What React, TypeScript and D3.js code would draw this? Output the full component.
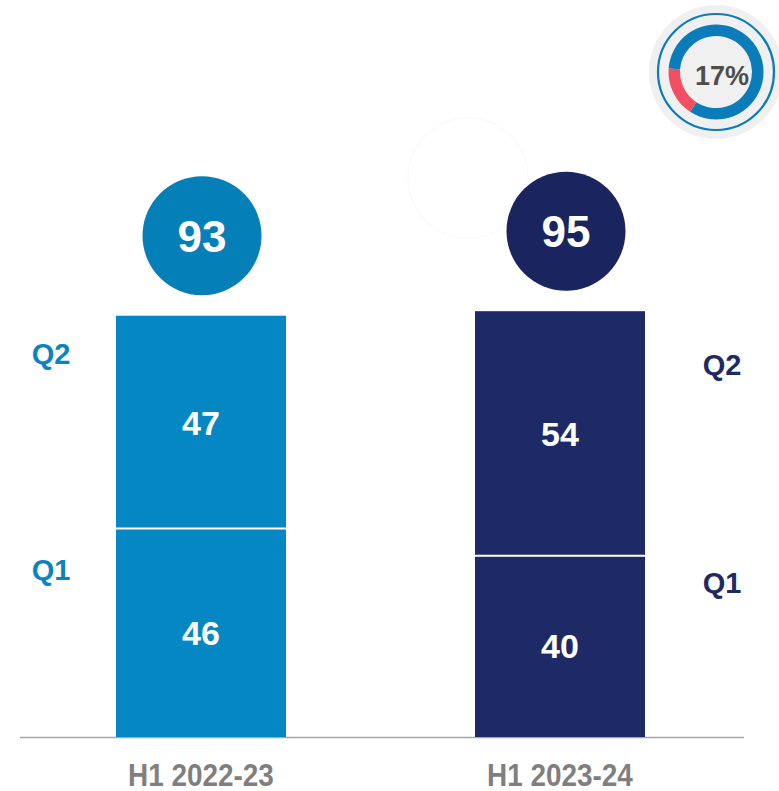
import React from "react";
import * as d3 from "d3";

const categories = ["H1 2022-23", "H1 2023-24"];
const q1Values = [46, 40];
const q2Values = [47, 54];
const totals = [93, 95];
const quarterLabels = ["Q1", "Q2"];
const growthPct = 17;

const barColors = ["#0587c4", "#1e2a66"];
const circleColors = ["#057fb8", "#1a245e"];
const labelColors = ["#0a84bf", "#1e2a66"];

export default function App() {
  const W = 779, H = 791;
  const x = d3.scalePoint<string>().domain(categories).range([201, 560]);
  const y = d3.scaleLinear().domain([0, 100]).range([737, 284]);
  const barW = 170;
  const font = "'Liberation Sans', Arial, sans-serif";

  const donutCx = 716, donutCy = 72;
  const arc = d3.arc<any>().innerRadius(36).outerRadius(47.5);
  const redStart = (213 * Math.PI) / 180;
  const redEnd = redStart + (growthPct / 100) * 2 * Math.PI;
  const blueArc = arc({ startAngle: redEnd, endAngle: redStart + 2 * Math.PI });
  const redArc = arc({ startAngle: redStart, endAngle: redEnd });

  return (
    <svg width={W} height={H} style={{ position: "absolute", left: 0, top: 0, background: "#fff" }}>
      {/* faint decorative circle */}
      <circle cx={468} cy={178} r={60} fill="none" stroke="#f9f9f9" strokeWidth={1.2} />

      {/* donut badge */}
      <g>
        <circle cx={donutCx} cy={donutCy} r={67} fill="#f0f0f0" />
        <circle cx={donutCx} cy={donutCy} r={58} fill="none" stroke="#0a7cba" strokeWidth={2.2} />
        <g transform={`translate(${donutCx},${donutCy})`}>
          <path d={blueArc || ""} fill="#0a7cba" />
          <path d={redArc || ""} fill="#f24f63" />
        </g>
        <text x={donutCx + 6} y={85} textAnchor="middle" fontFamily={font} fontWeight="bold" fontSize={27} fill="#4d4d4d">
          {growthPct}%
        </text>
      </g>

      {/* baseline */}
      <line x1={20} x2={744} y1={737.5} y2={737.5} stroke="#a6a6a6" strokeWidth={1.5} />

      {categories.map((c, i) => {
        const cx = x(c)!;
        const q1 = q1Values[i];
        const q2 = q2Values[i];
        const top = y(q1 + q2);
        const mid = y(q1);
        const base = y(0);
        const circleCy = top - 80;
        const circleCx = cx + (i === 0 ? 1 : 6);
        const qLabelX = i === 0 ? cx - 150 : cx + 162;
        return (
          <g key={c}>
            <rect x={cx - barW / 2} y={mid} width={barW} height={base - mid} fill={barColors[i]} />
            <rect x={cx - barW / 2} y={top} width={barW} height={mid - top} fill={barColors[i]} />
            <line x1={cx - barW / 2} x2={cx + barW / 2} y1={mid} y2={mid} stroke="#fff" strokeWidth={2} />
            <text x={cx} y={(mid + base) / 2 + 12} textAnchor="middle" fontFamily={font} fontWeight="bold" fontSize={34} fill="#fff">
              {q1}
            </text>
            <text x={cx} y={(top + mid) / 2 + 13} textAnchor="middle" fontFamily={font} fontWeight="bold" fontSize={34} fill="#fff">
              {q2}
            </text>
            <text x={qLabelX} y={(mid + base) / 2 - 53} textAnchor="middle" fontFamily={font} fontWeight="bold" fontSize={29} fill={labelColors[i]}>
              {quarterLabels[0]}
            </text>
            <text x={qLabelX} y={(top + mid) / 2 - 58} textAnchor="middle" fontFamily={font} fontWeight="bold" fontSize={29} fill={labelColors[i]}>
              {quarterLabels[1]}
            </text>
            <circle cx={circleCx} cy={circleCy} r={59.5} fill={circleColors[i]} />
            <text x={circleCx} y={circleCy + 16} textAnchor="middle" fontFamily={font} fontWeight="bold" fontSize={44} fill="#fff">
              {totals[i]}
            </text>
            <text x={cx} y={786} textAnchor="middle" fontFamily={font} fontWeight="bold" fontSize={31} fill="#7f7f7f" transform={`translate(${cx},0) scale(0.9,1) translate(${-cx},0)`}>
              {c}
            </text>
          </g>
        );
      })}
    </svg>
  );
}
